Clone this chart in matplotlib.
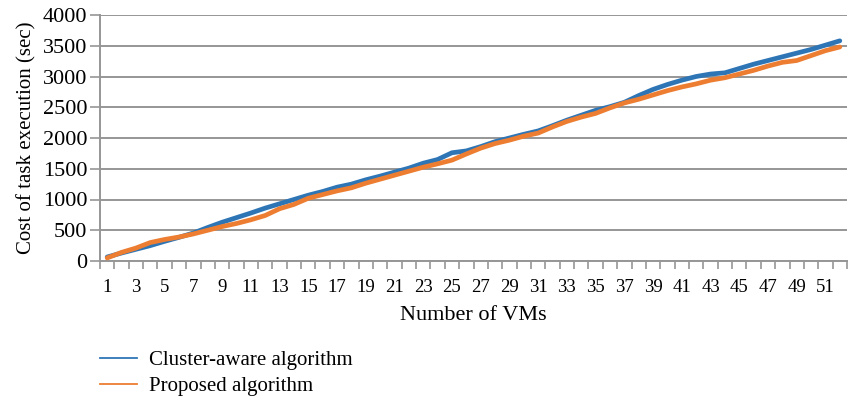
import numpy as np
import matplotlib
matplotlib.use("Agg")
import matplotlib.pyplot as plt
from matplotlib.lines import Line2D

plt.rcParams['font.family'] = ['Liberation Serif', 'DejaVu Serif']

vms = list(range(1, 53))
cluster_aware = [65, 130, 190, 250, 320, 385, 455, 545, 630, 705,
                 780, 860, 930, 1000, 1070, 1130, 1200, 1250, 1320, 1380,
                 1445, 1510, 1590, 1650, 1760, 1790, 1860, 1940, 2000, 2060,
                 2115, 2200, 2290, 2370, 2450, 2510, 2580, 2690, 2790, 2870,
                 2940, 3000, 3040, 3060, 3130, 3200, 3260, 3320, 3380, 3440,
                 3510, 3580]
proposed = [50, 140, 210, 300, 350, 390, 440, 500, 560, 610,
            670, 740, 850, 920, 1020, 1080, 1140, 1190, 1265, 1330,
            1395, 1460, 1525, 1580, 1640, 1740, 1835, 1910, 1965, 2030,
            2080, 2180, 2270, 2340, 2400, 2490, 2570, 2630, 2700, 2770,
            2830, 2880, 2940, 2980, 3040, 3100, 3170, 3230, 3260, 3340,
            3420, 3480]
y_ticks = [0, 500, 1000, 1500, 2000, 2500, 3000, 3500, 4000]

blue = '#2E75B6'
orange = '#ED7D31'
grid_c = '#969696'

fig = plt.figure(figsize=(8.5, 3.98), dpi=100)
ax = fig.add_axes([100/850, 1 - 261/398, 747/850, 246/398])

pos = np.arange(len(vms))
ax.plot(pos, cluster_aware, color=blue, lw=3.4, solid_capstyle='round', zorder=3)
ax.plot(pos, proposed, color=orange, lw=3.4, solid_capstyle='round', zorder=3)

ax.set_xlim(-0.5, len(vms) - 0.5)
ax.set_ylim(0, 4000)
ax.set_yticks(y_ticks)
ax.set_yticklabels([str(v) for v in y_ticks], fontsize=16)
ax.yaxis.grid(True, color=grid_c, lw=1.4)
ax.set_axisbelow(True)
ax.tick_params(axis='y', length=7, width=1.2, color=grid_c, pad=2)

ax.set_xticks(pos[::2])
ax.set_xticklabels([str(v) for v in vms[::2]], fontsize=13.5)
ax.set_xticks(np.arange(-0.5, len(vms)), minor=True)
ax.tick_params(axis='x', which='major', length=0, pad=13)
ax.tick_params(axis='x', which='minor', length=6, width=1.2, color=grid_c)

for s in ['top', 'right']:
    ax.spines[s].set_visible(False)
for s in ['left', 'bottom']:
    ax.spines[s].set_color(grid_c)
    ax.spines[s].set_linewidth(1.4)

ax.set_xlabel('Number of VMs', fontsize=16, labelpad=7)
ax.set_ylabel('Cost of task execution (sec)', fontsize=15, labelpad=5)

handles = [Line2D([], [], color=blue, lw=1.3), Line2D([], [], color=orange, lw=1.3)]
fig.legend(handles, ['Cluster-aware algorithm', 'Proposed algorithm'],
           loc='upper left', bbox_to_anchor=(92/850, 1 - 342/398),
           frameon=False, fontsize=15, handlelength=1.75, handletextpad=0.6,
           labelspacing=0.32, borderaxespad=0)

fig.savefig('out.png', dpi=100)
